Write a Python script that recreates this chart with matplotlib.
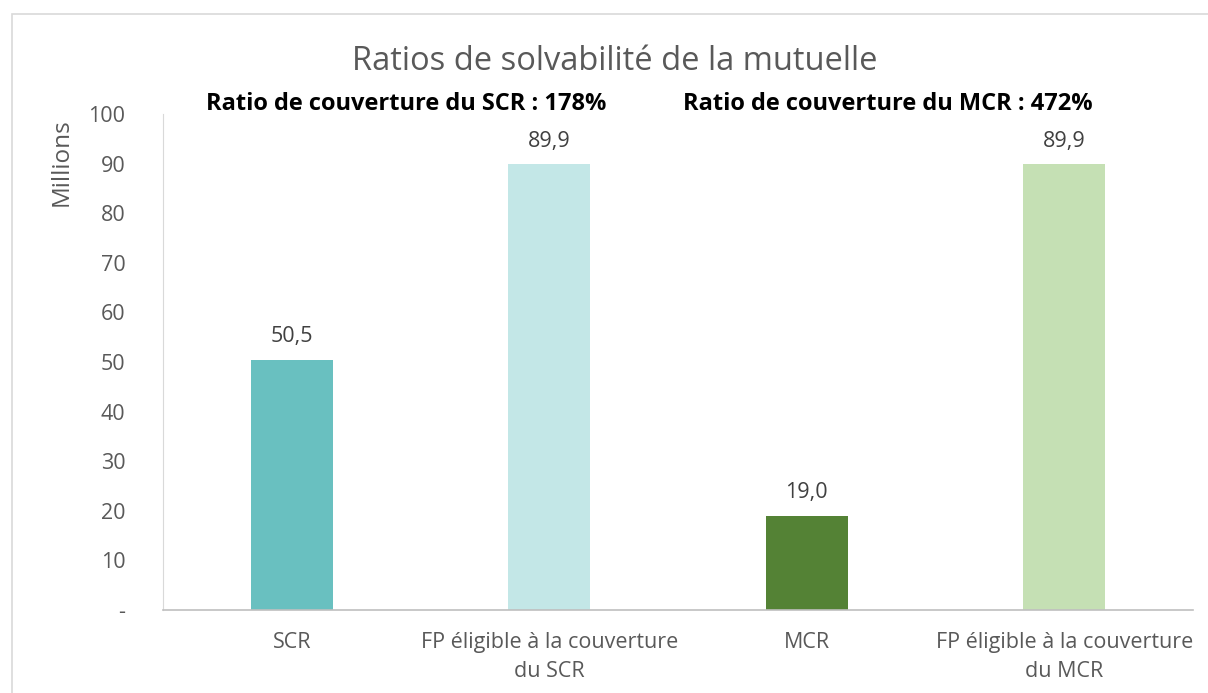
import matplotlib.pyplot as plt
from matplotlib.patches import Rectangle

plt.rcParams['font.family'] = ['Open Sans', 'DejaVu Sans']

categories = ['SCR', 'FP éligible à la couverture\ndu SCR', 'MCR', 'FP éligible à la couverture\ndu MCR']
values = [50.5, 89.9, 19.0, 89.9]
colors = ['#69C0C0', '#C3E7E7', '#548235', '#C5E0B4']
yticks = [0, 10, 20, 30, 40, 50, 60, 70, 80, 90, 100]
ytick_labels = ['-', '10', '20', '30', '40', '50', '60', '70', '80', '90', '100']
ratios = ['Ratio de couverture du SCR : 178%', 'Ratio de couverture du MCR : 472%']

txt = '#595959'
fig = plt.figure(figsize=(12.08, 6.93), dpi=100)
ax = fig.add_axes([163/1208, 1-610/693, 1030/1208, 496/693])

x = range(len(values))
bars = ax.bar(x, values, width=0.32, color=colors)
for xi, v in zip(x, values):
    ax.annotate(f'{v:.1f}'.replace('.', ','), (xi, v), xytext=(0, 9),
                textcoords='offset points', ha='center', va='bottom',
                fontsize=15.5, color='#404040')

ax.set_xlim(-0.5, 3.5)
ax.set_ylim(0, 100)
ax.set_yticks(yticks)
ax.set_yticklabels(ytick_labels)
ax.set_xticks(list(x))
ax.set_xticklabels(categories, linespacing=1.5)
ax.tick_params(length=0, labelsize=15.5, colors=txt)
ax.tick_params(axis='y', pad=27)
ax.tick_params(axis='x', pad=16)
for s in ['top', 'right']:
    ax.spines[s].set_visible(False)
ax.spines['left'].set_color('#D9D9D9')
ax.spines['bottom'].set_color('#BFBFBF')
ax.spines['bottom'].set_linewidth(1.2)

fig.text(62/1208, 1-162/693, 'Millions', rotation=90, ha='center', va='center',
         fontsize=17.5, color=txt)
fig.text(615/1208, 1-62/693, 'Ratios de solvabilité de la mutuelle', ha='center',
         va='center', fontsize=23.5, color=txt)
fig.text(406/1208, 1-104/693, ratios[0], ha='center', va='center',
         fontsize=17, fontweight='bold', color='black')
fig.text(888/1208, 1-104/693, ratios[1], ha='center', va='center',
         fontsize=17, fontweight='bold', color='black')

fig.patches.append(Rectangle((12/1208, -0.1), 1.2, 1-14/693+0.1, transform=fig.transFigure,
                             fill=False, edgecolor='#D9D9D9', linewidth=1.2))

fig.savefig('out.png', dpi=100)
